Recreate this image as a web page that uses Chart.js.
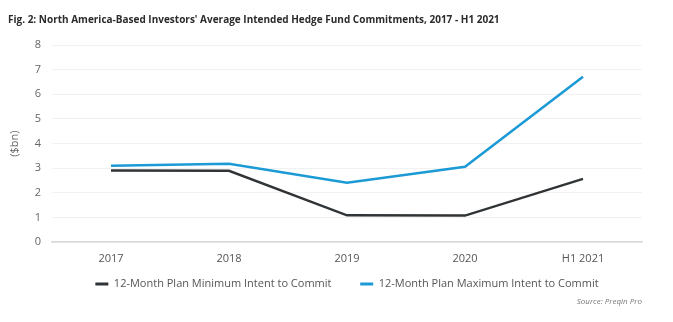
<!DOCTYPE html>
<html lang="en">
<head>
    <meta charset="UTF-8">
    <title>Fig. 2</title>
    <script src="https://cdn.jsdelivr.net/npm/chart.js"></script>
    <style>
        body {
            margin: 0;
            background: #ffffff;
        }
        .chart-container {
            position: relative;
            width: 673px;
            height: 322px;
        }
    </style>
</head>
<body>
    <div class="chart-container">
        <canvas id="commitChart"></canvas>
    </div>

    <script>
        const categories = ['2017', '2018', '2019', '2020', 'H1 2021'];
        const minIntent = [2.91, 2.90, 1.09, 1.08, 2.57];
        const maxIntent = [3.10, 3.18, 2.41, 3.06, 6.71];
        const seriesNames = ['12-Month Plan Minimum Intent to Commit', '12-Month Plan Maximum Intent to Commit'];

        const FONT = "'Open Sans', sans-serif";

        const data = {
            labels: categories,
            datasets: [{
                label: seriesNames[0],
                data: minIntent,
                borderColor: '#313436',
                backgroundColor: '#313436',
                borderWidth: 2.5,
                pointRadius: 0,
                tension: 0
            }, {
                label: seriesNames[1],
                data: maxIntent,
                borderColor: '#1c9ad6',
                backgroundColor: '#1c9ad6',
                borderWidth: 2.5,
                pointRadius: 0,
                tension: 0
            }]
        };

        const commitChart = new Chart(document.getElementById('commitChart'), {
            type: 'line',
            data: data,
            options: {
                responsive: true,
                maintainAspectRatio: false,
                animation: false,
                layout: {
                    padding: { left: 8, right: 31, top: 0, bottom: 15 }
                },
                plugins: {
                    title: {
                        display: true,
                        text: "Fig. 2: North America-Based Investors' Average Intended Hedge Fund Commitments, 2017 - H1 2021",
                        align: 'start',
                        color: '#2b2b2b',
                        font: { family: FONT, size: 10, weight: 'bold' },
                        padding: { top: 14, bottom: 19 }
                    },
                    subtitle: {
                        display: true,
                        text: 'Source: Preqin Pro',
                        position: 'bottom',
                        align: 'end',
                        color: '#777777',
                        font: { family: FONT, size: 8, style: 'italic' },
                        padding: { top: -2, bottom: 0 }
                    },
                    legend: {
                        position: 'bottom',
                        fullSize: false,
                        labels: {
                            color: '#555555',
                            font: { family: FONT, size: 11 },
                            boxWidth: 13,
                            boxHeight: 3,
                            padding: 3,
                            generateLabels: function(chart) {
                                const items = Chart.defaults.plugins.legend.labels.generateLabels(chart);
                                items.forEach(function(item, i) {
                                    item.lineWidth = 0;
                                    // wider gap after the first entry
                                    if (i < items.length - 1) item.text += '         ';
                                });
                                return items;
                            }
                        }
                    },
                    tooltip: { enabled: false }
                },
                scales: {
                    x: {
                        offset: true,
                        grid: { display: false, drawTicks: false },
                        border: { display: true, color: '#d8d8d8', width: 1.5 },
                        ticks: {
                            color: '#555555',
                            font: { family: FONT, size: 11 },
                            padding: 10,
                            maxRotation: 0
                        }
                    },
                    y: {
                        min: 0,
                        max: 8,
                        afterFit: function(scale) { scale.width = 44; },
                        grid: { color: '#f1f1f1', drawTicks: false },
                        border: { display: false },
                        ticks: {
                            stepSize: 1,
                            color: '#666666',
                            font: { family: FONT, size: 11 },
                            padding: 11
                        },
                        title: {
                            display: true,
                            text: '($bn)',
                            color: '#666666',
                            font: { family: FONT, size: 11 },
                            padding: { top: 0, bottom: 0 }
                        }
                    }
                }
            }
        });
    </script>
</body>
</html>
